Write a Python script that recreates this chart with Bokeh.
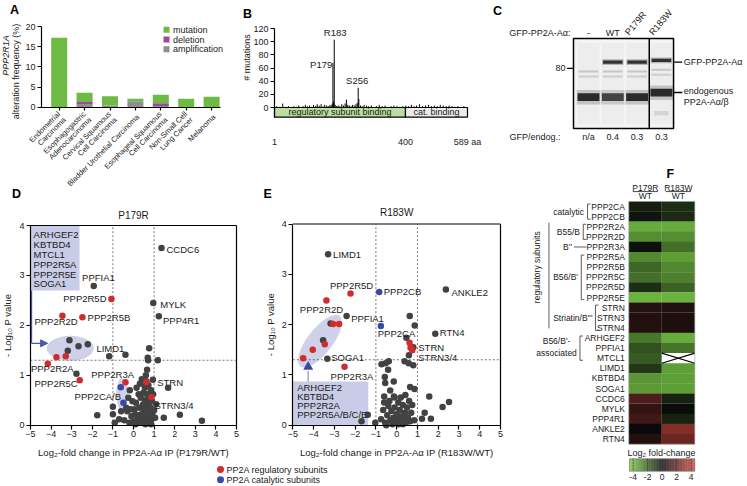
import math
import numpy as np
from bokeh.plotting import figure
from bokeh.models import (Range1d, FixedTicker, LinearAxis, LinearColorMapper, ColumnDataSource,
                          Arrow, NormalHead)
from bokeh.core.properties import value
from bokeh.embed import file_html
from bokeh.resources import INLINE

FONT = "Liberation Sans"
TXT = "#1a1a1a"
GREEN = "#6dbb45"
PURPLE = "#9a4a9a"
GREY_BAR = "#8e8e8e"
RED = "#d22b2b"
BLUE = "#3a48a8"
DOT = "#424242"
LAV = "#c9cce6"
ARROW = "#4a58b0"

# ---------------- data: panel A ----------------
cancer_types = ["Endometrial\nCarcinoma", "Esophagogastric\nAdenocarcinoma",
                "Cervical Squamous\nCell Carcinoma", "Bladder Urothelial Carcinoma",
                "Esophageal Squamous\nCell Carcinoma", "Non-Small Cell\nLung Cancer", "Melanoma"]
mutation = [17.2, 2.3, 2.3, 0.6, 2.1, 2.1, 2.6]
deletion = [0.0, 0.5, 0.0, 0.0, 0.7, 0.0, 0.0]
amplification = [0.0, 0.8, 0.4, 1.5, 0.3, 0.0, 0.0]
alteration_types = ["mutation", "deletion", "amplification"]

# ---------------- data: panel B ----------------
mutation_sites = [8, 18, 26, 35, 44, 52, 60, 68, 75, 82, 88, 95, 101, 108, 114, 120, 126, 131, 137, 143,
                  149, 154, 160, 165, 170, 174, 177, 179, 181, 183, 186, 190, 195, 200, 206, 211, 216, 220, 224, 229,
                  234, 239, 244, 249, 253, 256, 258, 263, 268, 274, 281, 288, 296, 304, 312, 320, 329, 338, 347, 356,
                  365, 374, 383, 392, 401, 409, 418, 426, 434, 443, 452, 461, 470, 479, 488, 497, 506, 515, 524, 533,
                  542, 551, 560, 569, 578]
mutation_counts = [2, 1, 6, 1, 2, 1, 2, 1, 3, 1, 2, 4, 2, 3, 1, 4, 2, 5, 3, 5,
                   2, 4, 3, 2, 4, 3, 6, 68, 9, 103, 4, 2, 3, 2, 5, 3, 6, 12, 4, 3,
                   2, 4, 3, 5, 7, 30, 13, 3, 2, 4, 3, 2, 3, 1, 2, 4, 2, 3, 1, 2,
                   3, 2, 1, 2, 3, 2, 4, 2, 3, 5, 2, 3, 4, 2, 3, 2, 4, 3, 2, 3,
                   2, 1, 2, 1, 2]
domains = ["regulatory subunit binding", "cat. binding"]
domain_start = [1, 400]
domain_end = [400, 589]
domain_colors = ["#bcdca0", "#ebebeb"]
protein_ticks = [1, 400, 589]

# ---------------- data: panel C ----------------
lanes = ["-", "WT", "P179R", "R183W"]
gfp_endog = ["n/a", "0.4", "0.3", "0.3"]
gfp_band = [0.0, 1.0, 1.0, 1.0]
endog_band = [1.0, 0.85, 1.0, 1.0]

# ---------------- data: panel D (P179R/WT) ----------------
p179r_other = [(1.36, 3.55), (-1.93, 2.79), (0.96, 2.45), (1.23, 2.18),
               (-3.11, 1.70), (-2.67, 1.58), (-2.22, 1.62), (-3.19, 1.49),
               (-1.18, 1.38), (-0.39, 1.41), (0.76, 1.54), (0.69, 1.35), (0.71, 1.30), (1.18, 1.30),
               (-2.77, 1.03), (0.94, 0.91), (1.68, 0.75), (-1.76, 0.20), (-1.00, 0.37), (-0.91, 0.05),
               (-1.00, 0.22), (1.47, 0.15), (2.25, 0.21), (3.32, 0.09), (-0.18, 0.70), (0.31, 0.83),
               (0.42, 0.86), (0.60, 1.00), (0.66, 1.11),
               (-0.45, 0.10), (-0.30, 0.28), (-0.20, 0.05), (-0.10, 0.18), (0.00, 0.08), (0.05, 0.32),
               (0.10, 0.02), (0.12, 0.45), (0.18, 0.20), (0.22, 0.12), (0.28, 0.35), (0.30, 0.05),
               (0.35, 0.55), (0.38, 0.22), (0.42, 0.15), (0.45, 0.40), (0.48, 0.65), (0.50, 0.08),
               (0.52, 0.30), (0.55, 0.75), (0.58, 0.50), (0.60, 0.18), (0.62, 0.38), (0.65, 0.62),
               (0.68, 0.10), (0.70, 0.28), (0.72, 0.80), (0.75, 0.45), (0.78, 0.20), (0.80, 0.58),
               (0.82, 0.35), (0.85, 0.70), (0.88, 0.12), (0.90, 0.48), (0.92, 0.25), (0.95, 0.62),
               (1.00, 0.30), (1.05, 0.15), (0.25, 0.62), (0.15, 0.75), (-0.05, 0.48), (-0.25, 0.55),
               (-0.35, 0.35), (0.40, 0.92), (0.62, 0.88), (0.08, 0.22), (0.32, 0.10), (0.58, 0.02),
               (0.70, 0.50), (0.48, 0.42), (-0.15, 0.32), (0.85, 0.02), (1.10, 0.42), (-0.60, 0.28),
               (-0.70, 0.12)]
p179r_regulatory = [(-1.07, 2.53), (-3.45, 2.19), (-2.48, 2.16), (-3.74, 1.36), (-3.29, 1.38),
                    (-4.16, 1.23), (-2.61, 0.90), (-0.39, 0.86), (0.62, 0.86), (0.87, 0.56)]
p179r_catalytic = [(-0.62, 0.76), (-0.49, 0.45)]
p179r_labels = ["CCDC6", "PPFIA1", "PPP2R5D", "MYLK", "PPP2R2D", "PPP2R5B", "PPP4R1", "LIMD1",
                "PPP2R2A", "PPP2R5C", "PPP2R3A", "STRN", "PPP2CA/B", "STRN3/4"]
p179r_box = ["ARHGEF2", "KBTBD4", "MTCL1", "PPP2R5A", "PPP2R5E", "SOGA1"]

# ---------------- data: panel E (R183W/WT) ----------------
r183w_other = [(-3.30, 3.40), (2.37, 2.70), (-2.41, 2.17), (0.63, 2.17), (0.87, 1.98), (1.86, 1.82),
               (-3.18, 2.02), (-3.54, 1.69), (-3.34, 1.32), (0.47, 1.74), (0.80, 1.55), (0.59, 1.39),
               (-0.73, 1.21), (-0.53, 1.23), (-0.38, 1.27), (0.38, 1.27), (0.58, 1.23), (0.80, 1.19),
               (-0.57, 0.96), (-0.41, 1.10), (-0.55, 0.84), (-0.14, 0.87), (-0.31, 0.69), (-0.60, 0.57),
               (-0.13, 0.57), (0.65, 0.76), (0.86, 0.72), (1.57, 0.57), (2.21, 0.36), (2.52, 0.46),
               (1.35, 0.25), (1.22, 0.13), (1.65, 0.13), (-1.39, 0.21), (-1.03, 0.05), (-1.69, 0.08),
               (-0.75, 0.12), (-0.65, 0.30), (-0.55, 0.05), (-0.45, 0.20), (-0.40, 0.38), (-0.30, 0.10),
               (-0.25, 0.28), (-0.20, 0.02), (-0.15, 0.15), (-0.10, 0.35), (-0.05, 0.08), (0.00, 0.22),
               (0.05, 0.04), (0.08, 0.45), (0.12, 0.12), (0.15, 0.30), (0.20, 0.06), (0.25, 0.18),
               (0.30, 0.40), (0.35, 0.10), (0.40, 0.25), (0.45, 0.05), (0.50, 0.35), (0.55, 0.15),
               (0.60, 0.48), (0.65, 0.08), (0.70, 0.25), (0.75, 0.40), (-0.35, 0.48), (0.20, 0.55),
               (-0.60, 0.45), (0.10, 0.02), (-0.10, 0.55), (0.42, 0.60), (0.30, 0.02), (-0.50, 0.00),
               (0.85, 0.10)]
r183w_regulatory = [(-2.22, 2.62), (-3.38, 2.48), (-3.06, 2.01), (-2.77, 2.01), (-3.46, 1.61),
                    (-4.04, 1.50), (-4.50, 1.33), (-2.51, 1.16), (0.62, 1.64), (0.67, 1.54), (0.75, 1.49)]
r183w_catalytic = [(-0.84, 2.65), (-0.76, 1.97)]
r183w_labels = ["LIMD1", "PPP2R5D", "PPP2CB", "ANKLE2", "PPP2R2D", "PPFIA1", "PPP2CA", "RTN4",
                "STRN", "STRN3/4", "SOGA1", "PPP2R3A"]
r183w_box = ["ARHGEF2", "KBTBD4", "PPP2R2A", "PPP2R5A/B/C/E"]

# ---------------- data: panel F ----------------
heat_genes = ["PPP2CA", "PPP2CB", "PPP2R2A", "PPP2R2D", "PPP2R3A", "PPP2R5A", "PPP2R5B", "PPP2R5C",
              "PPP2R5D", "PPP2R5E", "STRN", "STRN3", "STRN4", "ARHGEF2", "PPFIA1", "MTCL1", "LIMD1",
              "KBTBD4", "SOGA1", "CCDC6", "MYLK", "PPP4R1", "ANKLE2", "RTN4"]
fc_p179r = [-0.5, -0.3, -3.8, -3.1, -0.2, -3.0, -2.2, -2.4, -0.9, -4.0, 0.7, 0.6, 0.6,
            -2.6, -1.7, -1.9, -1.1, -3.3, -3.4, 1.6, 1.0, 1.3, 0.05, 0.6]
fc_r183w = [-0.9, -0.8, -3.8, -3.1, -2.4, -3.5, -3.0, -2.8, -2.1, -4.0, 0.6, 0.5, 0.5,
            -3.8, -2.5, float("nan"), -3.5, -3.5, -3.5, -0.6, -0.1, -0.6, 2.9, 2.3]
heat_columns = ["P179R", "R183W"]
cbar_ticks = [-4, -2, 0, 2, 4]

# ---------------- one canvas, one scale pair per panel ----------------
# (Bokeh's page template has no body margin, so the canvas starts at the window's corner)
L, R, T, B = 0, 747, 0, 486


def xr(v0, p0, v1, p1):
    k = (v1 - v0) / (p1 - p0)
    return Range1d(v0 + (L - p0) * k, v0 + (R - p0) * k)


def yr(v0, p0, v1, p1):
    k = (v1 - v0) / (p1 - p0)
    return Range1d(v0 + (B - p0) * k, v0 + (T - p0) * k)


p = figure(width=R - L, height=B - T, x_range=Range1d(L, R), y_range=Range1d(B, T),
           output_backend="svg", toolbar_location=None, x_axis_type=None, y_axis_type=None,
           min_border=0, title=None)
p.outline_line_color = None
p.background_fill_color = "white"
p.border_fill_color = "white"
A_PX_X, A_PX_Y = 25.4, 80.7 / 20
p.extra_x_ranges = {"A": xr(0, 58.7, 1, 58.7 + A_PX_X), "B": xr(1, 274, 589, 467),
                    "C": xr(0, 588, 1, 612.3), "D": xr(-5, 30, 5, 236), "E": xr(-5, 292.3, 5, 500),
                    "F": xr(0, 628.3, 2, 694.3), "CB": xr(-4.5, 629, 4.5, 694.3)}
p.extra_y_ranges = {"A": yr(0, 106.7, 20, 26), "B": yr(0, 107, 120, 28), "C": yr(0, 128, 1, 38),
                    "D": yr(0, 424.7, 4, 225), "E": yr(0, 424.7, 4, 223.5), "F": yr(0, 201, 24, 443.7)}


def rn(name, yname=None):
    return dict(x_range_name=name, y_range_name=yname or name)


def txt(x, y, s, name="default", size="9px", align="left", baseline="middle", angle=0.0,
        style="normal", color=TXT, yname=None):
    p.text(x=[x], y=[y], text=[s], text_font=value(FONT), text_font_size=size, text_align=align,
           text_baseline=baseline, angle=angle, text_font_style=style, text_color=color,
           **rn(name, yname))


def axis(side, name, fixed, bounds, ticks, size="9px", overrides=None, standoff=2,
         tick_out=4, line=True):
    ax = LinearAxis(x_range_name=name, y_range_name=name, fixed_location=fixed, bounds=bounds,
                    ticker=FixedTicker(ticks=ticks))
    ax.axis_line_width = 1.2
    ax.axis_line_color = "black" if line else None
    ax.major_tick_line_width = 1.2
    ax.major_tick_line_color = "black" if line else None
    ax.major_tick_out = tick_out
    ax.major_tick_in = 0
    ax.minor_tick_out = 0
    ax.minor_tick_in = 0
    ax.major_label_text_font = FONT
    ax.major_label_text_font_size = size
    ax.major_label_text_color = TXT
    ax.major_label_standoff = standoff
    if overrides:
        ax.major_label_overrides = overrides
    p.add_layout(ax, side)
    return ax


# ================= Panel A =================
xA = list(range(len(cancer_types)))
srcA = ColumnDataSource(dict(x=xA, mutation=mutation, deletion=deletion, amplification=amplification))
p.vbar_stack(["amplification", "deletion", "mutation"], x="x", width=0.63, source=srcA,
             fill_color=[GREY_BAR, PURPLE, GREEN], line_color=None, **rn("A"))
axis("left", "A", -0.697, (0, 20), [0, 5, 10, 15, 20])
axA = axis("below", "A", 0, (-0.697, 6.35), xA, size="7.5px", tick_out=3)
axA.major_label_text_color = None
ang = math.pi / 4
nx, ny = math.sin(ang), math.cos(ang)
for i, name in enumerate(cancer_types):
    lines = name.split("\n")
    for j, line in enumerate(lines):
        off = (j - (len(lines) - 1) / 2) * 8.0
        bx = 2.5 + off * nx
        by = 8.5 + off * ny
        txt(i + bx / A_PX_X, -by / A_PX_Y, line, "A", size="7.5px", align="right", angle=ang)
for i, (lab_, col) in enumerate(zip(alteration_types, [GREEN, PURPLE, GREY_BAR])):
    p.scatter(x=[166], y=[29.3 + i * 9.7], marker="square", size=6, fill_color=col, line_color=None)
    txt(172.5, 29.3 + i * 9.7, lab_, size="9px")
txt(9.5, 2.5, "A", size="12.5px", baseline="top", style="bold", color="black")
txt(5.5, 55, "PPP2R1A", size="9px", align="center", angle=math.pi / 2, style="italic")
txt(15.5, 71, "alteration frequency (%)", size="9px", align="center", angle=math.pi / 2)

# ================= Panel B =================
p.quad(left=domain_start, right=domain_end, bottom=-14.6, top=0, fill_color=domain_colors,
       line_color="black", line_width=1.2, **rn("B"))
p.text(x=[(s + e) / 2 for s, e in zip(domain_start, domain_end)], y=[-7.3, -7.3], text=domains,
       text_font=value(FONT), text_font_size="9px", text_align="center", text_baseline="middle",
       text_color=TXT, **rn("B"))
p.segment(x0=mutation_sites, y0=[0] * len(mutation_sites), x1=mutation_sites, y1=mutation_counts,
          line_color="black", line_width=1, **rn("B"))
axis("left", "B", 1, (-15.2, 120), [0, 20, 40, 60, 80, 100, 120])
axis("below", "B", -15.2, (1, 589), protein_ticks, overrides={589: "589 aa"}, standoff=15,
     line=False)
hs = {s: c for s, c in zip(mutation_sites, mutation_counts)}
txt(186, hs[183] + 2, "R183", "B", size="9.5px", align="center", baseline="bottom")
txt(177, hs[179] - 3, "P179", "B", size="9.5px", align="right")
txt(253, hs[256] + 3, "S256", "B", size="9.5px", align="center", baseline="bottom")
txt(246, 57, "# mutations", size="9px", align="center", angle=math.pi / 2)
txt(242.5, 6.5, "B", size="12.5px", baseline="top", style="bold", color="black")

# ================= Panel C (blot) =================
lane_x = list(range(len(lanes)))
lane_shift = [0.0, 0.0, 0.0, 0.05]
p.quad(left=[-0.617], right=[3.5], bottom=[0], top=[1], fill_color="#f4f4f4", line_color=None,
       **rn("C"))
p.rect(x=lane_x, y=[0.5] * 4, width=0.9, height=0.9, fill_color="#bbb", fill_alpha=0.12,
       line_color=None, **rn("C"))
for yb, a in ((0.633, 0.25), (0.578, 0.2)):
    p.rect(x=lane_x, y=[yb + s * 0.4 for s in lane_shift], width=0.82, height=0.022,
           fill_color="#555", fill_alpha=a, line_color=None, **rn("C"))
p.rect(x=lane_x, y=[0.737 + s * 0.4 for s in lane_shift], width=0.88, height=0.065,
       fill_color="#333", fill_alpha=[0.3 * g for g in gfp_band], line_color=None, **rn("C"))
p.rect(x=lane_x, y=[0.737 + s * 0.4 for s in lane_shift], width=0.8, height=0.035,
       fill_color="#222", fill_alpha=[0.9 * g for g in gfp_band], line_color=None, **rn("C"))
p.rect(x=lane_x, y=[0.348 + s for s in lane_shift], width=0.97, height=0.16,
       fill_color="#444", fill_alpha=[0.25 * g for g in endog_band], line_color=None, **rn("C"))
p.rect(x=lane_x, y=[0.348 + s for s in lane_shift], width=0.9, height=0.085,
       fill_color="#1a1a1a", fill_alpha=[0.9 * g for g in endog_band], line_color=None, **rn("C"))
p.rect(x=[3], y=[0.17], width=0.6, height=0.05, fill_color="#777", fill_alpha=0.2, line_color=None,
       **rn("C"))
p.quad(left=[-0.617], right=[3.5], bottom=[0], top=[1], fill_color=None, line_color="black",
       line_width=1.5, **rn("C"))
p.segment(x0=[2.5], y0=[0], x1=[2.5], y1=[1], line_color="black", line_width=1.5, **rn("C"))
txt(492.5, 3.0, "C", size="12.5px", baseline="top", style="bold", color="black")
txt(-0.74, 1.056, "GFP-PP2A-A\u03b1:", "C", align="right")
for i, lane in enumerate(lanes):
    if len(lane) > 2:
        txt(i - 0.27, 1.015, lane, "C", align="left", baseline="bottom", angle=0.87)
    else:
        txt(i, 1.056, lane, "C", align="center")
    txt(i, -0.097, gfp_endog[i], "C", align="center")
txt(-1.15, -0.097, "GFP/endog.:", "C", align="right")
txt(-0.95, 0.667, "80", "C", align="right")
p.segment(x0=[-0.88, 3.51, 3.51], y0=[0.667, 0.737, 0.40], x1=[-0.617, 3.86, 3.86],
          y1=[0.667, 0.737, 0.40], line_color="black", line_width=1.3, **rn("C"))
txt(3.92, 0.737, "GFP-PP2A-A\u03b1", "C", size="9px")
txt(3.92, 0.422, "endogenous", "C", size="9px")
txt(3.92, 0.292, "PP2A-A\u03b1/\u03b2", "C", size="9px")


# ================= Panels D, E (volcano) =================
def volcano_frame(name):
    axis("left", name, -5, (0, 4), [0, 1, 2, 3, 4])
    axis("below", name, 0, (-5, 5), list(range(-5, 6)))
    p.segment(x0=[-5, 5], y0=[4, 0], x1=[5, 5], y1=[4, 4], line_color="black", line_width=1.2,
              **rn(name))
    thr = -math.log10(0.05)
    p.segment(x0=[-1, 1, -5], y0=[0, 0, thr], x1=[-1, 1, 5], y1=[4, 4, thr], line_color="#555",
              line_dash="2 2", line_width=0.8, **rn(name))


def points(name, other, reg, cat):
    for pts, col in ((other, DOT), (reg, RED), (cat, BLUE)):
        p.scatter(x=[a for a, b in pts], y=[b for a, b in pts], size=6.5, fill_color=col,
                  line_color=None, **rn(name))


# ---- D ----
p.quad(left=[-5], right=[-2.62], bottom=[2.70], top=[4], fill_color=LAV, line_color=None, **rn("D"))
p.ellipse(x=[-3.07], y=[1.54], width=[47], height=[25], width_units="screen", height_units="screen",
          fill_color=LAV, fill_alpha=0.9, line_color=None, **rn("D"))
p.ellipse(x=[-0.55], y=[0.62], width=[12], height=[32], width_units="screen", height_units="screen",
          fill_color=LAV, fill_alpha=0.9, line_color=None, **rn("D"))
volcano_frame("D")
p.segment(x0=[-4.95], y0=[2.70], x1=[-4.95], y1=[1.64], line_color=ARROW, line_width=1.3, **rn("D"))
p.add_layout(Arrow(end=NormalHead(size=7, fill_color=ARROW, line_color=ARROW), x_start=-4.95,
                   y_start=1.64, x_end=-4.17, y_end=1.64, line_color=ARROW, line_width=1.3,
                   **rn("D")))
points("D", p179r_other, p179r_regulatory, p179r_catalytic)
for i, gname in enumerate(p179r_box):
    txt(-4.85, 3.82 - i * 0.198, gname, "D", size="9.5px")
d_pos = [(1.60, 3.52, "left"), (-1.70, 2.95, "center"), (-1.31, 2.54, "right"), (1.30, 2.41, "left"),
         (-4.81, 2.08, "left"), (-2.23, 2.16, "left"), (1.43, 2.10, "left"), (-1.80, 1.53, "left"),
         (-4.98, 1.13, "left"), (-4.81, 0.83, "left"), (-2.05, 1.01, "left"), (1.15, 0.85, "left"),
         (-2.86, 0.58, "left"), (1.02, 0.40, "left")]
for gname, (x, y, al) in zip(p179r_labels, d_pos):
    txt(x, y, gname, "D", size="9.5px", align=al)
txt(0, 4.21, "P179R", "D", size="10px", align="center")
txt(11.5, 186.5, "D", size="12.5px", baseline="top", style="bold", color="black")
txt(7, 2.0, "- Log\u2081\u2080 P value", "default", size="9.5px", align="center", angle=math.pi / 2,
    yname="D")
txt(0, -0.55, "Log\u2082-fold change in PP2A-A\u03b1 IP (P179R/WT)", "D", size="9.5px", align="center")

# ---- E ----
p.quad(left=[-5], right=[-1.37], bottom=[0], top=[0.87], fill_color=LAV, line_color=None, **rn("E"))
p.ellipse(x=[-3.69], y=[1.67], width=[64], height=[25], angle=[0.91], width_units="screen",
          height_units="screen", fill_color=LAV, fill_alpha=0.9, line_color=None, **rn("E"))
volcano_frame("E")
p.segment(x0=[-4.26], y0=[1.08], x1=[-4.26], y1=[0.87], line_color="#8f9bd0", line_width=1.3,
          **rn("E"))
p.scatter(x=[-4.26], y=[1.16], marker="triangle", size=10, fill_color=BLUE, line_color=None, **rn("E"))
points("E", r183w_other, r183w_regulatory, r183w_catalytic)
for i, gname in enumerate(r183w_box):
    txt(-4.79, 0.74 - i * 0.177, gname, "E", size="9.5px")
e_pos = [(-3.06, 3.40, "left"), (-2.17, 2.78, "center"), (-0.62, 2.65, "left"), (2.64, 2.64, "left"),
         (-4.66, 2.30, "left"), (-2.19, 2.13, "left"), (-0.91, 1.82, "left"), (2.08, 1.85, "left"),
         (1.04, 1.55, "left"), (1.04, 1.35, "left"), (-3.15, 1.35, "left"), (-3.18, 0.96, "left")]
for gname, (x, y, al) in zip(r183w_labels, e_pos):
    txt(x, y, gname, "E", size="9.5px", align=al)
txt(0, 4.22, "R183W", "E", size="10px", align="center")
txt(263, 186.5, "E", size="12.5px", baseline="top", style="bold", color="black")
txt(270, 2.0, "- Log\u2081\u2080 P value", "default", size="9.5px", align="center", angle=math.pi / 2,
    yname="E")
txt(0, -0.55, "Log\u2082-fold change in PP2A-A\u03b1 IP (R183W/WT)", "E", size="9.5px", align="center")

# ---- shared legend ----
p.scatter(x=[220, 220], y=[469, 479.3], size=7, fill_color=[RED, BLUE], line_color=None)
p.text(x=[226, 226], y=[469, 479.3], text=["PP2A regulatory subunits", "PP2A catalytic subunits"],
       text_font=value(FONT), text_font_size="9px", text_baseline="middle", text_color=TXT)


# ================= Panel F (heatmap) =================
def lerp(c0, c1, t):
    return "#%02x%02x%02x" % tuple(int(round(a + (b - a) * t)) for a, b in zip(c0, c1))


BLACK = (8, 8, 8)
NEG = (118, 200, 68)
POS = (198, 68, 58)
palette = []
for i in range(256):
    v = -1 + 2 * i / 255
    palette.append(lerp(BLACK, NEG, -v) if v < 0 else lerp(BLACK, POS, v))
mapper = LinearColorMapper(palette=palette, low=-4.5, high=4.5, nan_color="white")

nrow = len(heat_genes)
hx, hy, hv = [], [], []
for c, vals in enumerate([fc_p179r, fc_r183w]):
    for r, v in enumerate(vals):
        hx.append(c + 0.5)
        hy.append(r + 0.5)
        hv.append(v)
p.rect(x="x", y="y", width=1.0, height=1.02, source=ColumnDataSource(dict(x=hx, y=hy, v=hv)),
       fill_color={"field": "v", "transform": mapper}, line_color=None, **rn("F"))
for x, y, v in zip(hx, hy, hv):
    if v != v:
        p.segment(x0=[x - 0.5, x - 0.5], y0=[y - 0.5, y + 0.5], x1=[x + 0.5, x + 0.5],
                  y1=[y + 0.5, y - 0.5], line_color="black", line_width=1.2, **rn("F"))
p.quad(left=[0], right=[2], bottom=[nrow], top=[0], fill_color=None, line_color="#999",
       line_width=0.6, **rn("F"))
p.text(x=[-0.12] * nrow, y=[r + 0.5 for r in range(nrow)], text=heat_genes, text_font=value(FONT),
       text_font_size="8.5px", text_align="right", text_baseline="middle", text_color=TXT, **rn("F"))
for c, cname in enumerate(heat_columns):
    txt(c + 0.5, -1.38, cname, "F", size="8.5px", align="center")
    txt(c + 0.5, -0.58, "WT", "F", size="8.5px", align="center")
    p.segment(x0=[c + 0.12], y0=[-0.98], x1=[c + 0.88], y1=[-0.98], line_color=TXT, line_width=0.8,
              **rn("F"))


def bracket(bx, r0, r1, tick=0.09):
    p.segment(x0=[bx, bx, bx], y0=[r0, r0, r1], x1=[bx, bx + tick, bx + tick], y1=[r1, r0, r1],
              line_color="#333", line_width=0.8, **rn("F"))


GS = "8.5px"
txt(-1.36, 1.0, "catalytic", "F", size=GS, align="right")
bracket(-1.25, 0.25, 1.75)
txt(-1.48, 3.0, "B55/B", "F", size=GS, align="right")
bracket(-1.38, 2.25, 3.75)
txt(-1.72, 4.5, "B''", "F", size=GS, align="right")
p.segment(x0=[-1.66], y0=[4.5], x1=[-1.28], y1=[4.5], line_color="#333", line_width=0.8, **rn("F"))
txt(-1.54, 7.5, "B56/B'", "F", size=GS, align="right")
bracket(-1.44, 5.3, 9.7)
txt(-1.10, 11.5, "Striatin/B'''", "F", size=GS, align="right")
bracket(-1.01, 10.25, 12.75)
txt(-2.19, 13.75, "B56/B'-", "F", size=GS, align="center")
txt(-2.19, 14.95, "associated", "F", size=GS, align="center")
bracket(-1.48, 13.3, 15.7)
p.segment(x0=[-2.42], y0=[2.1], x1=[-2.42], y1=[12.55], line_color="#333", line_width=0.8, **rn("F"))
txt(-2.78, 6.5, "regulatory subunits", "F", size=GS, align="center", angle=math.pi / 2)
txt(666, 166, "F", size="12.5px", baseline="top", style="bold", color="black")

# colour bar
grad = list(np.linspace(-4.45, 4.45, 90))
p.rect(x=grad, y=[464.5] * len(grad), width=0.105, height=12.4,
       fill_color={"field": "x", "transform": mapper}, line_color=None, **rn("CB", "default"))
p.quad(left=[-4.5], right=[4.5], bottom=[470.7], top=[458.3], fill_color=None, line_color="#777",
       line_width=0.6, **rn("CB", "default"))
dash_t = [t for t in cbar_ticks if t != 0]
p.segment(x0=dash_t, y0=[458.3] * len(dash_t), x1=dash_t, y1=[470.7] * len(dash_t), line_color="#222",
          line_dash="2 1", line_width=0.8, line_alpha=0.8, **rn("CB", "default"))
p.text(x=cbar_ticks, y=[476.5] * len(cbar_ticks), text=[str(t) for t in cbar_ticks],
       text_font=value(FONT), text_font_size="8.5px", text_align="center", text_baseline="middle",
       text_color=TXT, **rn("CB", "default"))
txt(-0.1, 452.3, "Log\u2082 fold-change", "CB", size="9px", align="center", yname="default")

open("out.html", "w").write(file_html(p, INLINE))
